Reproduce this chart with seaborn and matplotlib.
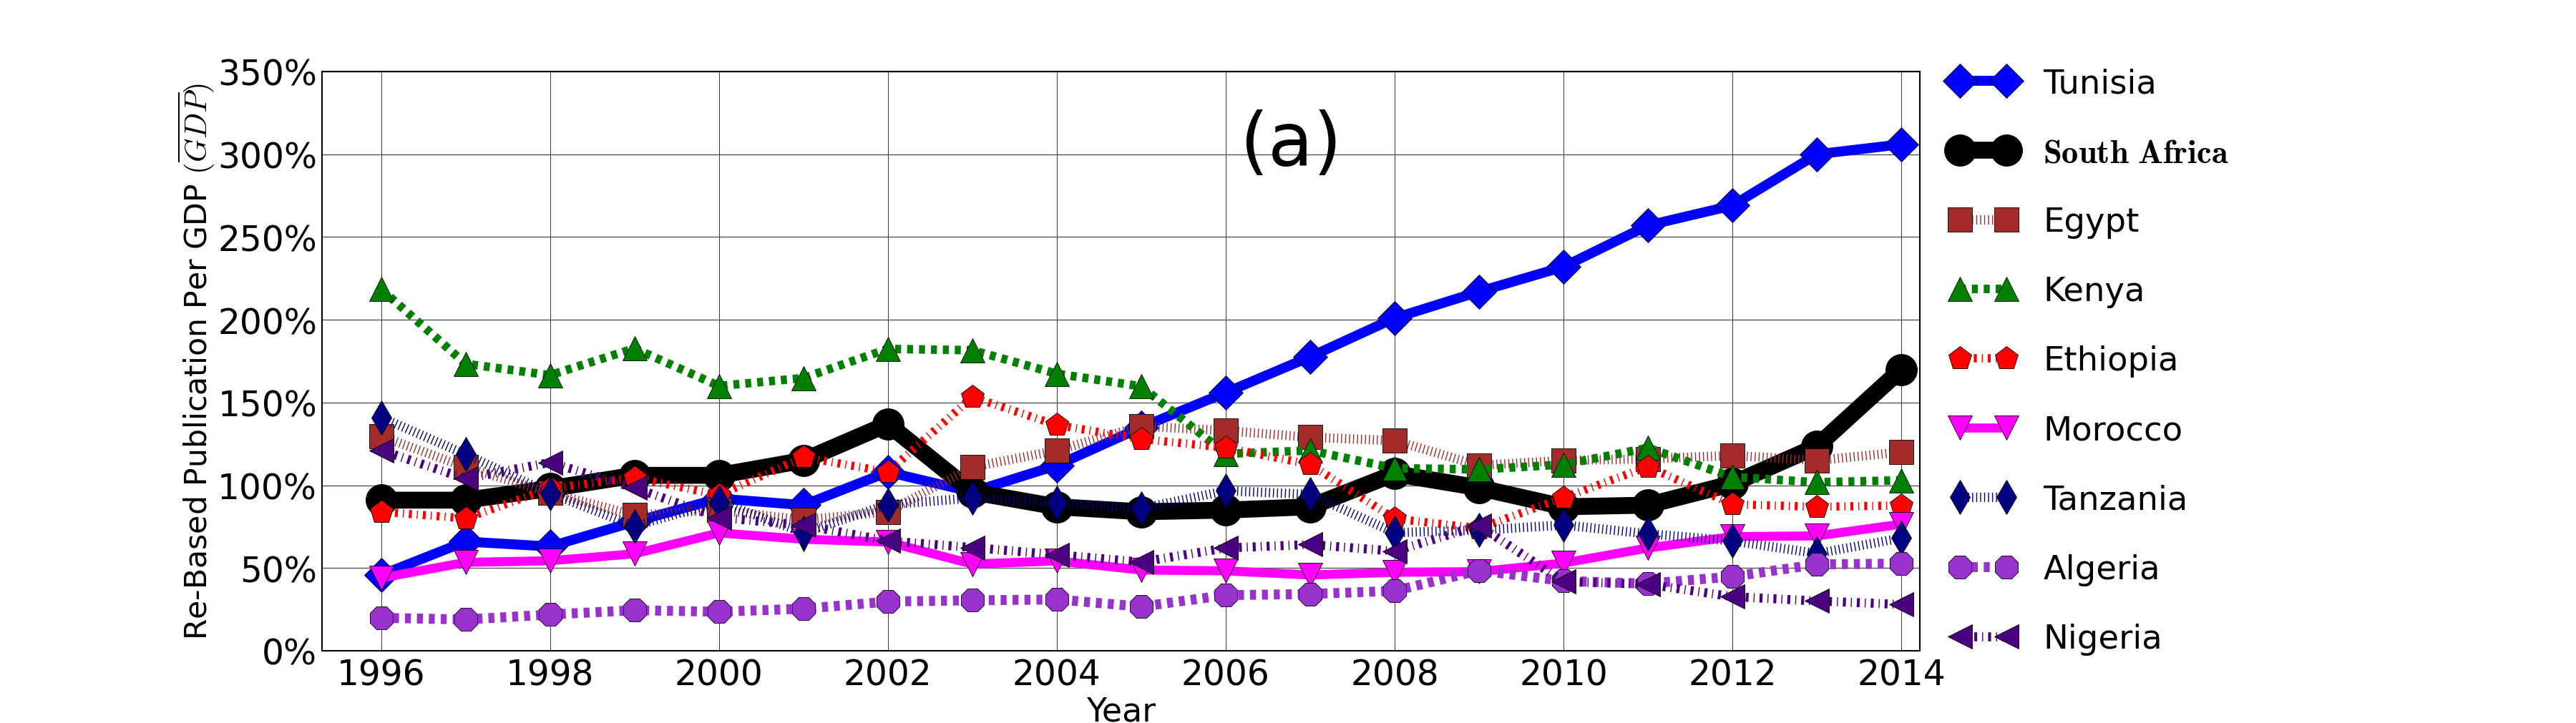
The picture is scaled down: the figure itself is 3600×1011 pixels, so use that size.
import numpy as np
import pandas as pd
import matplotlib
matplotlib.use("Agg")
import matplotlib.pyplot as plt
import seaborn as sns
from matplotlib.ticker import FuncFormatter

# ---------------- data ----------------
years = list(range(1996, 2015))
countries = ["Tunisia", "South Africa", "Egypt", "Kenya", "Ethiopia",
             "Morocco", "Tanzania", "Algeria", "Nigeria"]
tunisia = [45.8, 66, 63, 78, 92, 88, 108, 96, 112, 135, 156, 177.6, 201, 217, 232, 257, 269, 300, 306]
south_africa = [91, 91, 98, 106, 106, 115, 137, 96, 87, 84, 85, 87, 107, 98.5, 87, 88, 101, 123.5, 170]
egypt = [129.6, 111, 95.4, 82, 85, 79, 84, 111, 121, 135.7, 133, 129, 127, 112, 115, 116, 118, 115, 120]
kenya = [218.5, 173.4, 166.5, 182.7, 160, 164.8, 182.4, 181.6, 167.4, 159.8, 119, 121, 110.3, 109.6, 112.5, 122.6, 105, 101.8, 103]
ethiopia = [84, 80, 98, 104.7, 94, 117, 108, 153.3, 136.4, 128, 122.7, 112.6, 79.8, 74, 92.5, 111.2, 88.5, 87, 87.8]
morocco = [44, 53.4, 54.4, 58.6, 71.2, 67.4, 65.7, 52.4, 54.3, 48.8, 48.3, 45.8, 47.4, 47.8, 53, 62.1, 69, 69.4, 76.5]
tanzania = [141, 118.7, 95.2, 75.3, 90, 71.4, 88.3, 92.3, 89.5, 85.9, 96.7, 94.5, 71.4, 72.9, 76, 70.7, 66.4, 58.8, 68.1]
algeria = [19.9, 18.9, 21.9, 24.5, 23.6, 25.4, 29.7, 30.5, 31, 26.7, 33.6, 34.3, 36.2, 48.5, 42.2, 40.6, 44.8, 52.2, 52.7]
nigeria = [121.1, 104, 113.8, 98.4, 80.5, 75.9, 66.4, 62.4, 58, 53.6, 62.1, 64.2, 60.2, 75.6, 41.8, 40.2, 32.7, 30.1, 28]
series = [tunisia, south_africa, egypt, kenya, ethiopia, morocco, tanzania, algeria, nigeria]
x_ticks = list(range(1996, 2015, 2))
y_ticks = list(range(0, 351, 50))

# ---------------- styles ----------------
colors = ["blue", "black", "brown", "green", "red", "magenta", "navy", "darkorchid", "indigo"]
markers = ["D", "o", "s", "^", "p", "v", "d", "8", "<"]
DOT, DASH, DASHDOT = (0, (1, 3)), (0, (6, 6)), (0, (3, 5, 1, 5))
linestyles = ["-", "-", DOT, DASH, DASHDOT, "-", DOT, DASH, DASHDOT]
linewidths = [10, 17, 9.4, 8.6, 8.3, 9.1, 9.4, 10, 9.1]
markersizes = [24.5, 31.7, 24.5, 24.5, 24.5, 24.5, 24.5, 24.5, 24.5]
labels = [r"Tunisia", r"$\mathbf{South\ Africa}$", "Egypt", "Kenya", "Ethiopia",
          "Morocco", "Tanzania", "Algeria", "Nigeria"]

sns.set_style("white")
plt.rcParams["font.family"] = ["DejaVu Sans"]
plt.rcParams["mathtext.fontset"] = "cm"
plt.rcParams["lines.scale_dashes"] = False
for k in ["text.color", "axes.labelcolor", "xtick.color", "ytick.color", "axes.edgecolor"]:
    plt.rcParams[k] = "black"

fig = plt.figure(figsize=(36, 10.12), dpi=100)
ax = fig.add_axes([450 / 3600, (1012 - 911) / 1012, (2683 - 450) / 3600, (911 - 101) / 1012])

for name, vals, c, m, ls, lw, ms, lab in zip(countries, series, colors, markers,
                                             linestyles, linewidths, markersizes, labels):
    df = pd.DataFrame({"Year": years, "Value": vals})
    sns.lineplot(data=df, x="Year", y="Value", ax=ax, color=c, marker=m,
                 markersize=ms, linestyle=ls, linewidth=lw, markeredgecolor="black",
                 markeredgewidth=0.6, label=lab, errorbar=None, legend=False)

ax.set_xlim(1995.3, 2014.22)
ax.set_ylim(0, 350)
ax.set_xticks(x_ticks)
ax.set_yticks(y_ticks)
ax.yaxis.set_major_formatter(FuncFormatter(lambda v, _: f"{v:.0f}%"))
ax.tick_params(axis="both", direction="in", length=4, labelsize=35, pad=6.5,
               colors="black")
ax.tick_params(axis="y", pad=5)
ax.grid(True, axis="y", color="#555555", linewidth=1.0)
ax.grid(True, axis="x", color="#333333", linewidth=0.7)
ax.set_axisbelow(True)
for sp in ax.spines.values():
    sp.set_color("black")
    sp.set_linewidth(1.5)

ax.set_xlabel("Year", fontsize=33)
ax.set_ylabel(r"Re-Based Publication Per GDP $(\overline{GDP})$", fontsize=30.7)
ax.xaxis.set_label_coords(0.5, -0.0773)
ax.yaxis.set_label_coords(-0.0658, 0.5)

ax.text(2006.77, 293.6, "(a)", fontsize=74, ha="center", va="baseline", color="black")

handles, labs = ax.get_legend_handles_labels()
ax.legend(handles, labs, loc="center left", bbox_to_anchor=(1, 0.5), frameon=False,
          fontsize=33.5, numpoints=2, handlelength=2.0, labelspacing=1.12,
          handletextpad=0.8, borderaxespad=0.5, borderpad=0.4)

fig.savefig("out.png", dpi=100)
